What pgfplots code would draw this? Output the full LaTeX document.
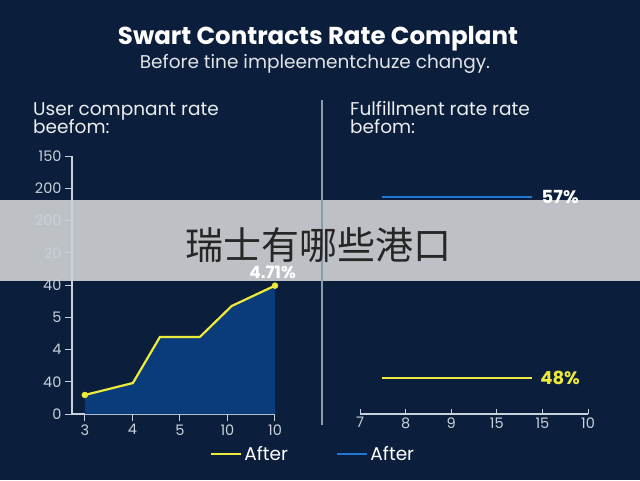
\documentclass[border=0pt]{standalone}
\usepackage{fontspec}
\setmainfont{Poppins}
\newfontfamily\cjk{Noto Sans CJK SC}
\usepackage{pgfplots}
\pgfplotsset{compat=1.18}
\definecolor{bg}{HTML}{0B1E3B}
\definecolor{axcol}{HTML}{C9D1DD}
\definecolor{fillblue}{HTML}{0A3C7C}
\definecolor{yel}{HTML}{EEEA3A}
\definecolor{blu}{HTML}{2277D0}
\definecolor{banner}{HTML}{BDC0C5}
\definecolor{divcol}{HTML}{8E9AAE}
\begin{document}
\begin{tikzpicture}[x=1pt,y=1pt]
\path[use as bounding box] (0,0) rectangle (640,480);
\fill[bg] (0,0) rectangle (640,480);
\fill[banner] (0,199) rectangle (640,280);
\node[white,font=\fontsize{24.5}{28}\selectfont\bfseries] at (318,441) {Swart Contracts Rate Complant};
\node[white!88!bg,font=\fontsize{18.5}{20}\selectfont] at (315,416) {Before tine impleementchuze changy.};
\node[white!92!bg,anchor=base west,inner sep=0pt,font=\fontsize{18.5}{18}\selectfont] at (33,364) {User compnant rate};
\node[white!92!bg,anchor=base west,inner sep=0pt,font=\fontsize{18.5}{18}\selectfont] at (33,346) {beefom:};
\node[white!92!bg,anchor=base west,inner sep=0pt,font=\fontsize{18.5}{18}\selectfont] at (350,364) {Fulfillment rate rate};
\node[white!92!bg,anchor=base west,inner sep=0pt,font=\fontsize{18.5}{18}\selectfont] at (350,346) {befom:};
\draw[divcol,line width=1.5] (322,380) -- (322,55);
\begin{axis}[at={(72pt,66pt)},anchor=south west,scale only axis,width=203pt,height=258pt,
  axis lines=left, axis line style={axcol,line width=1.3,-},
  xmin=-0.27,xmax=4,ymin=0,ymax=8,
  xtick={0,...,4},xticklabels={3,4,5,10,10},
  ytick={0,...,8},yticklabels={0,40,4,5,40,20,200,200,150},
  tick style={axcol,line width=1},tick align=outside,major tick length=7pt,
  ticklabel style={axcol,font=\fontsize{14.5}{14}\selectfont},
  /pgf/number format/assume math mode=true,clip=false,
  legend style={draw=none,fill=none,text=white,font=\fontsize{18.5}{18}\selectfont,
    at={(0.68,-0.155)},anchor=west,inner sep=0pt},
  legend image code/.code={\draw[#1,line width=2.2pt] (0pt,0pt) -- (30pt,0pt);}]
\addplot[fill=fillblue,draw=none,forget plot] coordinates {(0,0.59) (1.01,0.96) (1.58,2.39) (2.42,2.39) (3.09,3.35) (4,3.98)} \closedcycle;
\addplot[yel,line width=2.2pt] coordinates {(0,0.59) (1.01,0.96) (1.58,2.39) (2.42,2.39) (3.09,3.35) (4,3.98)};
\addlegendentry{After}
\addplot[yel,only marks,mark=*,mark size=3pt,forget plot] coordinates {(0,0.59) (4,3.98)};
\node[white,font=\fontsize{17}{17}\selectfont\bfseries] at (axis cs:3.95,4.38) {4.71\%};
\end{axis}
\begin{axis}[at={(360pt,66pt)},anchor=south west,scale only axis,width=228pt,height=258pt,
  axis x line=bottom, axis y line=none, axis line style={axcol,line width=1.2,-},
  xmin=0,xmax=5,ymin=0,ymax=8,
  xtick={0,...,5},xticklabels={7,8,9,15,15,10},
  tick style={axcol,line width=1},tick align=inside,major tick length=5pt,
  ticklabel style={axcol,font=\fontsize{14.5}{14}\selectfont},
  /pgf/number format/assume math mode=true,clip=false,
  legend style={draw=none,fill=none,text=white,font=\fontsize{18.5}{18}\selectfont,
    at={(-0.105,-0.155)},anchor=west,inner sep=0pt},
  legend image code/.code={\draw[#1,line width=2.2pt] (0pt,0pt) -- (30pt,0pt);}]
\addplot[blu,line width=2.2pt] coordinates {(0.48,6.74) (3.77,6.74)};
\addlegendentry{After}
\addplot[yel,line width=2.2pt,forget plot] coordinates {(0.48,1.12) (3.77,1.12)};
\node[white,anchor=west,inner sep=0pt,font=\fontsize{18}{18}\selectfont\bfseries] at (axis cs:3.98,6.74) {57\%};
\node[yel,anchor=west,inner sep=0pt,font=\fontsize{18}{18}\selectfont\bfseries] at (axis cs:3.95,1.12) {48\%};
\end{axis}
\node[text=black!85,font=\cjk\fontsize{38}{38}\selectfont] at (318.5,234.5) {瑞士有哪些港口};
\end{tikzpicture}
\end{document}
